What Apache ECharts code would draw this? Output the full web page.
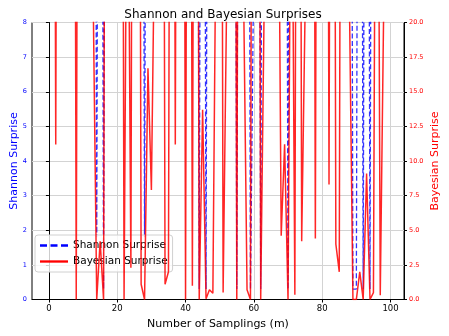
<!DOCTYPE html>
<html><head><meta charset="utf-8">
<script src="https://cdn.jsdelivr.net/npm/echarts@6/dist/echarts.min.js"></script>
<style>html,body{margin:0;padding:0;background:#fff}#c{width:449px;height:336px}</style>
</head><body><div id="c"></div>
<script>
const samplings = [0,1,2,3,4,5,6,7,8,9,10,11,12,13,14,15,16,17,18,19,20,21,22,23,24,25,26,27,28,29,30,31,32,33,34,35,36,37,38,39,40,41,42,43,44,45,46,47,48,49,50,51,52,53,54,55,56,57,58,59,60,61,62,63,64,65,66,67,68,69,70,71,72,73,74,75,76,77,78,79,80,81,82,83,84,85,86,87,88,89,90,91,92,93,94,95,96,97,98,99];
// Shannon surprise (left axis); values far above 8 are off-chart
const shannon = [
40,40,40,40,40,40,40,40,40,40,
40,40,40,40,1.8,40,0.3,40,40,40,
40,40,40,40,40,40,40,40,1.8,40,
40,40,40,40,40,40,40,40,40,40,
40,40,40,40,0.3,40,0.3,40,40,40,
40,40,40,40,40,0.3,40,40,40,0.3,
10,40,0.3,40,40,40,40,40,40,40,
0.3,40,40,40,40,40,40,40,40,40,
40,40,40,40,40,40,40,40,40,0.3,
0.3,40,0.3,40,0.3,40,40,40,40,40];
// Bayesian surprise (right axis); values far above 20 are off-chart
const bayesian = [
100,100,11.2,100,100,100,100,100,0,100,
100,100,100,21,0,4.2,0,100,100,100,
100,100,0,40,2.3,100,100,1.1,0,16.7,
7.9,28,100,100,1.1,2.0,100,11.2,100,100,
0,100,1.0,100,0,13.7,0.05,0.7,0.45,30,
100,0.5,21,100,100,0,100,22,0.7,0,
100,100,0,21,100,100,100,40,4.6,11.2,
0,40,0.35,100,4.2,21,100,100,4.4,100,
100,100,8.3,100,4.0,2.0,100,100,21,0,
0,2.0,0,9.1,0,0.5,60,0.3,21,100];
const xTicks = [0,20,40,60,80,100];
const leftTicks = [0,1,2,3,4,5,6,7,8];
const rightTicks = [0,2.5,5,7.5,10,12.5,15,17.5,20];

const chart = echarts.init(document.getElementById('c'), null, {renderer:'canvas'});
const font = 'DejaVu Sans';
chart.setOption({
  animation:false,
  backgroundColor:'#fff',
  title:{text:'Shannon and Bayesian Surprises', left:218, top:4, textAlign:'center',
    textStyle:{fontFamily:font, fontSize:12, fontWeight:'normal', color:'#000'}},
  grid:{left:32, right:45, top:22.5, bottom:36.5, show:true, borderColor:'#000', borderWidth:1,
    containLabel:false, outerBoundsMode:'none'},
  legend:{orient:'vertical', left:35, top:235, z:2, itemWidth:28, itemHeight:10, itemGap:5,
    padding:[5,5,5,5], backgroundColor:'rgba(255,255,255,0.8)', borderColor:'#d0d0d0', borderWidth:1, borderRadius:3,
    textStyle:{fontFamily:font, fontSize:10.5, color:'#000'},
    data:[{name:'Shannon Surprise', icon:'path://M0,4h6v2h-6zM9,4h6v2h-6zM18,4h6v2h-6z'},{name:'Bayesian Surprise', icon:'path://M0,4h24v2h-24z'}]},
  xAxis:{type:'value', min:-4.95, max:103.95,
    name:'Number of Samplings (m)', nameLocation:'middle', nameGap:18,
    nameTextStyle:{fontFamily:font, fontSize:11, color:'#000'},
    axisLine:{show:true, lineStyle:{color:'#000'}},
    axisTick:{show:true, length:3, customValues:xTicks, lineStyle:{color:'#000'}},
    axisLabel:{customValues:xTicks, fontFamily:font, fontSize:8.5, color:'#000', margin:5},
    splitLine:{show:true, customValues:xTicks, lineStyle:{color:'#d3d3d3'}}},
  yAxis:[
    {type:'value', min:0, max:8, interval:1, position:'left',
      name:'Shannon Surprise', nameLocation:'middle', nameGap:12, nameMoveOverlap:false,
      nameTextStyle:{fontFamily:font, fontSize:11, color:'#0000ff'},
      axisLine:{show:true, lineStyle:{color:'#000'}},
      axisTick:{show:true, length:3, lineStyle:{color:'#000'}},
      axisLabel:{fontFamily:font, fontSize:6.5, color:'#0000ff', margin:5},
      splitLine:{show:true, lineStyle:{color:'#d3d3d3'}}},
    {type:'value', min:0, max:20, interval:2.5, position:'right',
      name:'Bayesian Surprise', nameLocation:'middle', nameGap:26, nameMoveOverlap:false,
      nameTextStyle:{fontFamily:font, fontSize:11, color:'#ff0000'},
      axisLine:{show:true, lineStyle:{color:'#000'}},
      axisTick:{show:true, length:3, lineStyle:{color:'#000'}},
      axisLabel:{fontFamily:font, fontSize:6.5, color:'#ff0000', margin:5, formatter:v=>v.toFixed(1)},
      splitLine:{show:false}}
  ],
  series:[
    {name:'Shannon Surprise', type:'line', yAxisIndex:0, z:1, symbol:'none', clip:true,
      color:'#0000ff',
      lineStyle:{color:'rgba(0,0,255,0.8)', width:1.3, type:[5,2.5]},
      data:samplings.map((x,i)=>[x, shannon[i]])},
    {name:'Bayesian Surprise', type:'line', yAxisIndex:1, z:3, symbol:'none', clip:true,
      color:'#ff0000',
      lineStyle:{color:'rgba(255,0,0,0.85)', width:1.5},
      data:samplings.map((x,i)=>[x, bayesian[i]])}
  ]
});
</script></body></html>
